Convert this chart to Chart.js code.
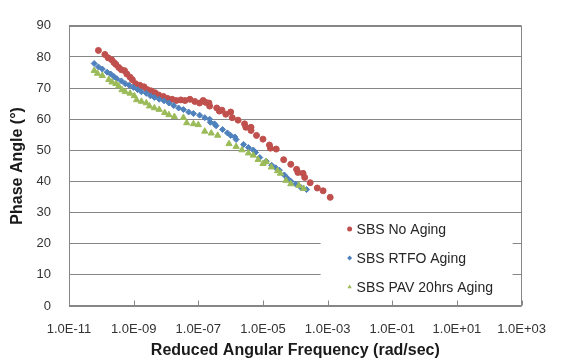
<!DOCTYPE html>
<html>
<head>
<meta charset="utf-8">
<title>Phase Angle</title>
<script src="https://cdn.jsdelivr.net/npm/chart.js@4.4.0/dist/chart.umd.min.js"></script>
<style>
  html, body { margin: 0; padding: 0; background: #fff; }
  #wrap { width: 562px; height: 361px; position: relative; }
</style>
</head>
<body>
<div id="wrap"><canvas id="myChart" width="562" height="361"></canvas></div>
<script>
// ---------------- DATA ----------------
const seriesNames = ["SBS No Aging", "SBS RTFO Aging", "SBS PAV 20hrs Aging"];

// log10 of reduced angular frequency (rad/sec)
const noAgingLogFreq = [-10.09, -9.89, -9.79, -9.68, -9.61, -9.55, -9.46, -9.38, -9.28, -9.21, -9.11, -9.04, -8.94, -8.81, -8.68, -8.58, -8.46, -8.34, -8.23, -8.08, -7.96, -7.81, -7.68, -7.54, -7.41, -7.26, -7.11, -6.96, -6.85, -6.77, -6.67, -6.65, -6.43, -6.35, -6.27, -6.15, -6.00, -5.95, -5.77, -5.57, -5.53, -5.37, -5.37, -5.20, -5.00, -4.80, -4.77, -4.59, -4.36, -4.14, -3.96, -3.92, -3.76, -3.71, -3.54, -3.32, -3.14, -2.92];
const noAgingPhase = [82.1, 80.8, 79.7, 79.1, 78.2, 77.6, 76.6, 75.9, 75.6, 74.5, 73.5, 72.7, 71.4, 70.9, 70.4, 69.5, 69.1, 68.5, 67.8, 67.3, 66.7, 66.4, 66.0, 66.2, 66.0, 66.4, 65.7, 65.2, 66.0, 65.4, 65.2, 64.2, 63.6, 62.6, 62.9, 61.6, 62.3, 60.5, 59.7, 58.5, 57.4, 57.4, 56.4, 54.8, 53.6, 51.7, 50.7, 50.4, 47.0, 45.5, 43.9, 42.9, 42.6, 41.3, 39.6, 37.9, 37.0, 34.9];

const rtfoLogFreq = [-10.22, -10.09, -9.97, -9.82, -9.71, -9.61, -9.52, -9.38, -9.26, -9.14, -9.01, -8.88, -8.76, -8.61, -8.48, -8.36, -8.21, -8.06, -7.91, -7.76, -7.61, -7.46, -7.30, -7.15, -6.96, -6.80, -6.65, -6.63, -6.50, -6.45, -6.25, -6.10, -6.00, -5.87, -5.83, -5.60, -5.45, -5.30, -5.23, -5.10, -4.90, -4.73, -4.61, -4.49, -4.34, -4.25, -4.14, -3.99, -3.82, -3.65];
const rtfoPhase = [77.9, 76.8, 76.1, 75.1, 74.5, 73.7, 73.0, 72.3, 71.4, 70.9, 70.2, 69.5, 68.8, 68.3, 67.5, 67.0, 66.4, 65.9, 65.2, 64.4, 63.6, 63.1, 62.3, 61.8, 61.3, 60.5, 60.0, 59.0, 58.5, 57.9, 56.7, 55.6, 54.8, 54.3, 53.5, 51.9, 50.9, 50.1, 49.3, 47.7, 46.5, 45.2, 44.4, 43.6, 42.1, 41.1, 40.1, 39.2, 38.0, 37.4];

const pavLogFreq = [-10.22, -10.12, -9.97, -9.77, -9.67, -9.55, -9.46, -9.36, -9.26, -9.11, -8.98, -8.91, -8.76, -8.61, -8.51, -8.36, -8.21, -8.04, -7.91, -7.74, -7.46, -7.36, -7.15, -7.00, -6.80, -6.60, -6.40, -6.05, -5.83, -5.65, -5.45, -5.30, -5.15, -5.00, -4.90, -4.74, -4.55, -4.46, -4.29, -4.14, -3.89, -3.74];
const pavPhase = [75.6, 74.7, 74.0, 72.7, 71.9, 71.4, 70.6, 69.4, 68.8, 68.3, 67.5, 66.2, 65.7, 65.2, 64.2, 63.6, 63.1, 62.1, 61.4, 60.8, 60.5, 58.8, 58.5, 58.2, 56.1, 55.5, 54.8, 52.1, 51.2, 50.1, 49.1, 48.4, 47.0, 45.7, 46.3, 44.6, 43.4, 42.6, 40.3, 39.2, 38.7, 37.7];

// tick labels on the frequency axis (every 2 decades)
const xTickExponents = [-11, -9, -7, -5, -3, -1, 1, 3];

const colors = ["#C0504D", "#4F81BD", "#9BBB59"];
const pointStyles = ["circle", "rectRot", "triangle"];

function toPoints(logFreq, phase) {
    return logFreq.map((e, i) => ({ x: Math.pow(10, e), y: phase[i] }));
}

function sciLabel(v) {
    const e = Math.round(Math.log10(v));
    return "1.0E" + (e < 0 ? "-" : "+") + String(Math.abs(e)).padStart(2, "0");
}

// ---------------- FRAME, INNER TICKS, LEGEND ----------------
const frameLegend = {
    id: "frameLegend",
    afterDraw(chart) {
        const { ctx, chartArea: a } = chart;
        const xs = chart.scales.x;
        ctx.save();
        ctx.strokeStyle = "#868686";
        ctx.lineWidth = 1;
        const l = Math.round(a.left) + 0.5, r = Math.round(a.right) - 0.5;
        const t = Math.round(a.top) + 0.5, b = Math.round(a.bottom) - 0.5;
        ctx.strokeRect(l, t, r - l, b - t);

        // small tick marks pointing into the plot
        ctx.beginPath();
        xTickExponents.forEach(e => {
            const px = Math.round(xs.getPixelForValue(Math.pow(10, e))) + 0.5;
            ctx.moveTo(px, b);
            ctx.lineTo(px, b - 5);
        });
        ctx.stroke();

        // legend with white background over the gridlines
        const boxL = a.right - 201, boxT = a.bottom - 91;
        ctx.fillStyle = "#fff";
        ctx.fillRect(boxL, boxT, 192, 85);

        ctx.font = '14px "Liberation Sans", Arial, sans-serif';
        ctx.textBaseline = "middle";
        ctx.textAlign = "left";
        seriesNames.forEach((name, i) => {
            const y = boxT + 14 + i * 29;
            const mx = boxL + 29;
            ctx.fillStyle = colors[i];
            ctx.strokeStyle = colors[i];
            if (Chart.helpers && Chart.helpers.drawPoint) {
                Chart.helpers.drawPoint(ctx, { pointStyle: pointStyles[i], radius: 2.5, rotation: 0, borderWidth: 0 }, mx, y);
            } else {
                ctx.beginPath();
                ctx.arc(mx, y, 2.5, 0, Math.PI * 2);
                ctx.fill();
            }
            ctx.fillStyle = "#262626";
            ctx.fillText(name, mx + 7, y + 1);
        });
        ctx.restore();
    }
};

// ---------------- CHART ----------------
const ctx = document.getElementById("myChart").getContext("2d");

const datasets = [
    { data: toPoints(noAgingLogFreq, noAgingPhase), radius: 3, order: 3 },
    { data: toPoints(rtfoLogFreq, rtfoPhase), radius: 3, order: 2 },
    { data: toPoints(pavLogFreq, pavPhase), radius: 3.6, order: 1 }
].map((d, i) => ({
    label: seriesNames[i],
    data: d.data,
    order: d.order,
    pointStyle: pointStyles[i],
    pointRadius: d.radius,
    pointBackgroundColor: colors[i],
    pointBorderColor: colors[i],
    pointBorderWidth: 1,
    showLine: false
}));

const chart = new Chart(ctx, {
    type: "scatter",
    data: { datasets: datasets },
    options: {
        responsive: false,
        animation: false,
        devicePixelRatio: 1,
        layout: { padding: { left: 4, right: 28, top: 17, bottom: 0 } },
        plugins: {
            legend: { display: false },
            tooltip: { enabled: false }
        },
        scales: {
            x: {
                type: "logarithmic",
                min: 1e-11,
                max: 1e3,
                afterBuildTicks: scale => {
                    scale.ticks = xTickExponents.map(e => ({ value: Math.pow(10, e) }));
                },
                afterFit: scale => { scale.height = 55; },
                grid: { display: false, drawTicks: false },
                border: { display: false },
                ticks: {
                    autoSkip: false,
                    maxRotation: 0,
                    padding: 16,
                    color: "#333",
                    font: { family: '"Liberation Sans", Arial, sans-serif', size: 13 },
                    callback: v => sciLabel(v)
                },
                title: {
                    display: true,
                    text: "Reduced Angular Frequency (rad/sec)",
                    color: "#1a1a1a",
                    padding: { top: 0, bottom: 1 },
                    font: { family: '"Liberation Sans", Arial, sans-serif', size: 16, weight: "bold" }
                }
            },
            y: {
                min: 0,
                max: 90,
                afterFit: scale => { scale.width = 65; },
                grid: { color: "#868686", lineWidth: 1, drawTicks: false },
                border: { display: false },
                ticks: {
                    stepSize: 10,
                    padding: 18,
                    color: "#333",
                    font: { family: '"Liberation Sans", Arial, sans-serif', size: 13 }
                },
                title: {
                    display: true,
                    text: "Phase Angle (°)",
                    color: "#1a1a1a",
                    padding: { top: 4, bottom: 0 },
                    font: { family: '"Liberation Sans", Arial, sans-serif', size: 16, weight: "bold" }
                }
            }
        }
    },
    plugins: [frameLegend]
});
</script>
</body>
</html>
